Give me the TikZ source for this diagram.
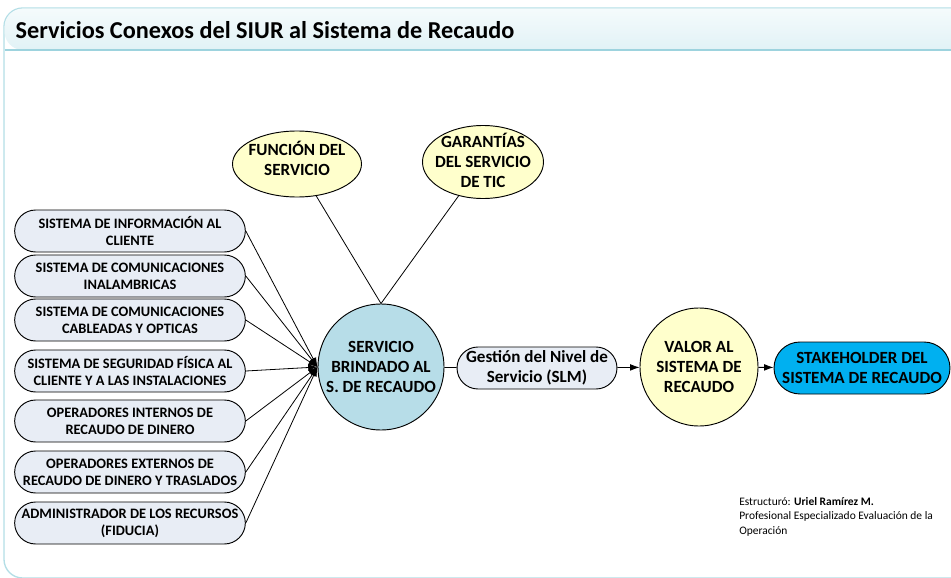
\documentclass[tikz,border=0pt]{standalone}
\usepackage{fontspec}
\setmainfont{Carlito}
\usetikzlibrary{shapes.misc,shapes.geometric,arrows.meta}

\definecolor{boxfill}{HTML}{E8EDF5}
\definecolor{servfill}{HTML}{B7DDE8}
\definecolor{valfill}{HTML}{FFFFCC}
\definecolor{stakefill}{HTML}{00B0F0}
\definecolor{frameline}{HTML}{B3DEE6}
\definecolor{headtop}{HTML}{F5FBFC}
\definecolor{headbot}{HTML}{E1F2F6}
\definecolor{headline}{HTML}{9DD3DE}

\tikzset{
  sysbox/.style={rounded rectangle, draw, fill=boxfill, line width=0.7pt,
    minimum width=173pt, minimum height=31.5pt, inner sep=0pt, align=center,
    font=\fontsize{10.8}{12.8}\selectfont\bfseries},
  bigtxt/.style={align=center, font=\fontsize{12.8}{15}\selectfont\bfseries},
  link/.style={line width=0.6pt},
  into/.style={line width=0.6pt, -{Latex[length=7pt,width=5pt]}}
}

\begin{document}
\begin{tikzpicture}[x=0.75pt,y=-0.75pt]
\useasboundingbox (0,0) rectangle (951,578);

% marco y encabezado
\draw[frameline, line width=1pt, fill=white, rounded corners=14pt] (4,578) -- (4,8) -- (980,8) -- (980,578) -- cycle;
\shade[top color=headtop, bottom color=headbot, rounded corners=14pt] (4.5,50) -- (4.5,8.5) -- (980,8.5) -- (980,50) -- cycle;
\draw[headline, line width=1.2pt] (4.5,50) -- (980,50);
\node[anchor=west, font=\fontsize{18.2}{20}\selectfont\bfseries] (titulo) at (11,30) {Servicios Conexos del SIUR al Sistema de Recaudo};

% sistemas de la izquierda
\node[sysbox] (sis1) at (130,231) {SISTEMA DE INFORMACIÓN AL\\CLIENTE};
\node[sysbox] (sis2) at (130,276) {SISTEMA DE COMUNICACIONES\\INALAMBRICAS};
\node[sysbox] (sis3) at (130,320) {SISTEMA DE COMUNICACIONES\\CABLEADAS Y OPTICAS};
\node[sysbox] (sis4) at (130,371) {SISTEMA DE SEGURIDAD FÍSICA AL\\CLIENTE Y A LAS INSTALACIONES};
\node[sysbox] (sis5) at (130,421) {OPERADORES INTERNOS DE\\RECAUDO DE DINERO};
\node[sysbox] (sis6) at (130,472) {OPERADORES EXTERNOS DE\\RECAUDO DE DINERO Y TRASLADOS};
\node[sysbox] (sis7) at (130,523) {ADMINISTRADOR DE LOS RECURSOS\\(FIDUCIA)};

% servicio central
\node[circle, draw, fill=servfill, line width=0.7pt, minimum size=94.5pt, inner sep=0pt,
  label={[bigtxt]center:SERVICIO\\BRINDADO AL\\S. DE RECAUDO}] (serv) at (381,367) {};

\node[ellipse, draw, fill=valfill, line width=0.7pt, minimum width=96.75pt, minimum height=49.5pt, inner sep=0pt,
  label={[bigtxt, yshift=4pt]center:FUNCIÓN DEL\\SERVICIO}] (funcion) at (297,164) {};
\node[ellipse, draw, fill=valfill, line width=0.7pt, minimum width=90.75pt, minimum height=54.75pt, inner sep=0pt,
  label={[bigtxt, yshift=1.5pt]center:GARANTÍAS\\DEL SERVICIO\\DE TIC}] (garantia) at (483,162) {};

\draw[link] (funcion) -- (serv.north);
\draw[link] (garantia) -- (serv.north);

\foreach \i in {1,...,7}
  \draw[into] (sis\i.east) -- (serv.west);

% cadena hacia la derecha
\node[rounded rectangle, draw, fill=boxfill, line width=0.7pt, minimum width=115.5pt, minimum height=31.5pt,
  inner sep=0pt, bigtxt] (slm) at (537,368) {Gestión del Nivel de\\Servicio (SLM)};
\node[circle, draw, fill=valfill, line width=0.7pt, minimum size=88.5pt, inner sep=0pt,
  label={[bigtxt]center:VALOR AL\\SISTEMA DE\\RECAUDO}] (valor) at (699,367) {};
\node[rounded rectangle, draw, fill=stakefill, line width=0.7pt, minimum width=132pt, minimum height=39pt,
  inner sep=0pt, bigtxt] (stake) at (862,368) {STAKEHOLDER DEL\\SISTEMA DE RECAUDO};

\draw[link] (serv) -- (slm);
\draw[into] (slm) -- (valor);
\draw[into] (valor) -- (stake);

% firma
\node[anchor=north west, align=left, inner sep=0pt, font=\fontsize{8.6}{10.9}\selectfont] (firma) at (739,497)
  {Estructuró: \textbf{Uriel Ramírez M.}\\Profesional Especializado Evaluación de la\\Operación};

\end{tikzpicture}
\end{document}
